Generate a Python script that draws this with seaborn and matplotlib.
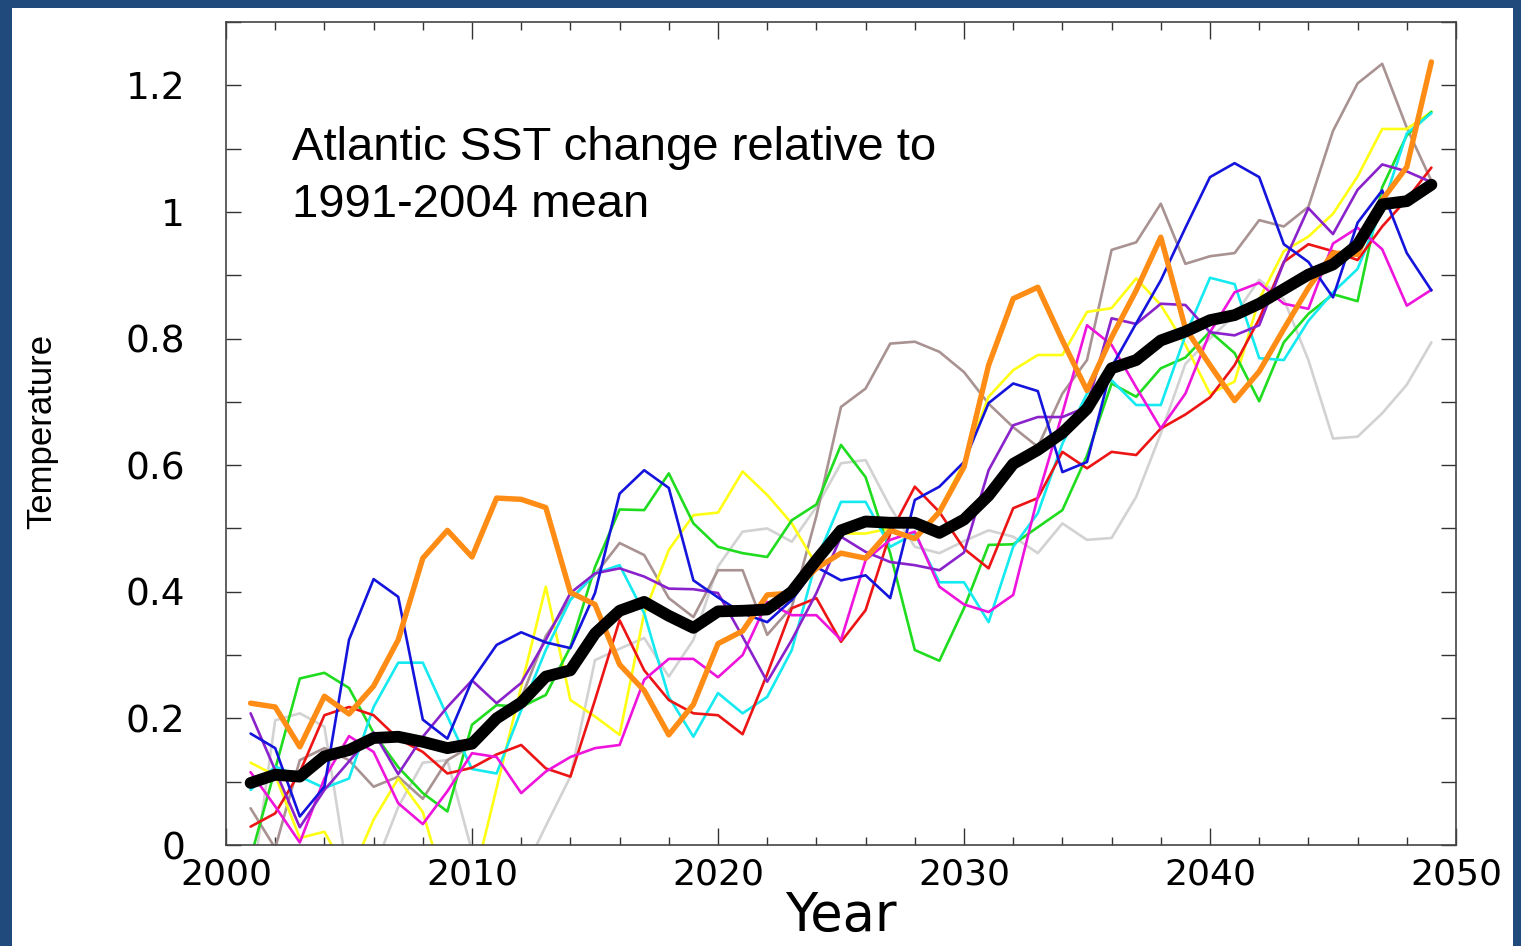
import matplotlib
matplotlib.use("Agg")
import matplotlib.pyplot as plt
from matplotlib.patches import Rectangle
from matplotlib.ticker import MultipleLocator
from matplotlib import font_manager
import pandas as pd
import seaborn as sns

# ---------------------------------------------------------------------------
# Atlantic SST anomaly (deg C) relative to the 1991-2004 mean, per ensemble run
# ---------------------------------------------------------------------------
years = list(range(2001, 2050))

ensemble_mean = [0.098, 0.111, 0.108, 0.140, 0.150,
                 0.169, 0.171, 0.163, 0.153, 0.160,
                 0.200, 0.225, 0.266, 0.276, 0.334,
                 0.370, 0.384, 0.362, 0.343, 0.369,
                 0.370, 0.372, 0.400, 0.450, 0.497,
                 0.511, 0.509, 0.509, 0.493, 0.514,
                 0.552, 0.602, 0.624, 0.651, 0.689,
                 0.753, 0.766, 0.797, 0.811, 0.829,
                 0.837, 0.855, 0.878, 0.901, 0.917,
                 0.948, 1.012, 1.017, 1.043]

run_orange = [0.224, 0.218, 0.155, 0.235, 0.207,
              0.251, 0.324, 0.453, 0.497, 0.455,
              0.548, 0.546, 0.533, 0.399, 0.380,
              0.285, 0.244, 0.174, 0.222, 0.318,
              0.338, 0.395, 0.398, 0.437, 0.461,
              0.453, 0.497, 0.484, 0.526, 0.597,
              0.758, 0.863, 0.881, 0.797, 0.718,
              0.802, 0.876, 0.960, 0.816, 0.758,
              0.702, 0.748, 0.815, 0.880, 0.935,
              0.933, 1.019, 1.071, 1.237]

run_blue = [0.176, 0.153, 0.045, 0.092, 0.324,
            0.420, 0.392, 0.198, 0.168, 0.260,
            0.316, 0.336, 0.320, 0.311, 0.398,
            0.555, 0.592, 0.564, 0.418, 0.391,
            0.366, 0.352, 0.387, 0.439, 0.418,
            0.426, 0.390, 0.545, 0.566, 0.605,
            0.698, 0.729, 0.717, 0.589, 0.605,
            0.755, 0.824, 0.892, 0.975, 1.055,
            1.077, 1.055, 0.949, 0.921, 0.865,
            0.983, 1.034, 0.935, 0.876]

run_green = [-0.020, 0.120, 0.263, 0.272, 0.248,
             0.177, 0.123, 0.082, 0.053, 0.190,
             0.221, 0.218, 0.237, 0.313, 0.439,
             0.530, 0.529, 0.587, 0.508, 0.471,
             0.461, 0.455, 0.513, 0.538, 0.632,
             0.581, 0.461, 0.308, 0.291, 0.374,
             0.474, 0.475, 0.502, 0.529, 0.615,
             0.729, 0.708, 0.753, 0.770, 0.811,
             0.777, 0.701, 0.794, 0.839, 0.870,
             0.859, 1.039, 1.121, 1.158]

run_yellow = [0.130, 0.110, 0.011, 0.021, -0.050,
              0.040, 0.105, 0.052, -0.080, -0.070,
              0.090, 0.250, 0.408, 0.229, 0.203,
              0.174, 0.366, 0.466, 0.521, 0.525,
              0.590, 0.553, 0.508, 0.442, 0.492,
              0.492, 0.500, 0.482, 0.529, 0.605,
              0.708, 0.750, 0.774, 0.774, 0.842,
              0.848, 0.895, 0.853, 0.790, 0.713,
              0.732, 0.862, 0.938, 0.961, 0.997,
              1.056, 1.131, 1.131, 1.158]

run_cyan = [0.087, 0.124, 0.108, 0.090, 0.105,
            0.218, 0.288, 0.288, 0.203, 0.120,
            0.113, 0.213, 0.308, 0.387, 0.429,
            0.442, 0.366, 0.234, 0.171, 0.240,
            0.208, 0.234, 0.308, 0.450, 0.542,
            0.542, 0.471, 0.492, 0.415, 0.415,
            0.352, 0.471, 0.524, 0.634, 0.713,
            0.734, 0.695, 0.695, 0.805, 0.896,
            0.886, 0.769, 0.766, 0.828, 0.873,
            0.910, 1.006, 1.124, 1.156]

run_red = [0.029, 0.050, 0.115, 0.205, 0.218,
           0.205, 0.168, 0.147, 0.113, 0.122,
           0.143, 0.158, 0.121, 0.108, 0.229,
           0.355, 0.276, 0.229, 0.208, 0.205,
           0.175, 0.270, 0.374, 0.390, 0.321,
           0.371, 0.492, 0.566, 0.526, 0.468,
           0.437, 0.532, 0.548, 0.621, 0.595,
           0.621, 0.616, 0.658, 0.680, 0.707,
           0.758, 0.831, 0.921, 0.949, 0.938,
           0.924, 0.977, 1.020, 1.070]

run_magenta = [0.115, 0.061, 0.004, 0.105, 0.172,
               0.147, 0.066, 0.033, 0.085, 0.145,
               0.139, 0.082, 0.116, 0.139, 0.153,
               0.158, 0.261, 0.294, 0.294, 0.265,
               0.300, 0.384, 0.363, 0.363, 0.324,
               0.450, 0.482, 0.495, 0.408, 0.380,
               0.368, 0.395, 0.550, 0.682, 0.821,
               0.790, 0.723, 0.658, 0.713, 0.810,
               0.873, 0.888, 0.855, 0.847, 0.950,
               0.975, 0.941, 0.852, 0.877]

run_purple = [0.208, 0.118, 0.028, 0.087, 0.132,
              0.178, 0.112, 0.171, 0.218, 0.260,
              0.224, 0.256, 0.324, 0.398, 0.429,
              0.437, 0.424, 0.405, 0.404, 0.398,
              0.329, 0.258, 0.324, 0.398, 0.487,
              0.463, 0.447, 0.442, 0.434, 0.462,
              0.592, 0.663, 0.676, 0.676, 0.692,
              0.832, 0.823, 0.855, 0.853, 0.810,
              0.805, 0.821, 0.920, 1.006, 0.965,
              1.035, 1.075, 1.064, 1.047]

run_brown = [0.058, -0.005, 0.134, 0.153, 0.134,
             0.092, 0.108, 0.073, 0.134, 0.157,
             0.200, 0.232, 0.330, 0.388, 0.427,
             0.477, 0.458, 0.390, 0.360, 0.434,
             0.434, 0.332, 0.376, 0.520, 0.692,
             0.721, 0.792, 0.795, 0.779, 0.747,
             0.697, 0.660, 0.629, 0.713, 0.766,
             0.940, 0.952, 1.013, 0.918, 0.930,
             0.935, 0.987, 0.977, 1.008, 1.128,
             1.203, 1.234, 1.133, 1.049]

run_gray = [-0.080, 0.197, 0.208, 0.187, -0.060,
            -0.040, 0.060, 0.130, 0.134, -0.010,
            -0.080, -0.050, 0.030, 0.108, 0.292,
            0.310, 0.327, 0.266, 0.324, 0.440,
            0.495, 0.500, 0.479, 0.534, 0.603,
            0.608, 0.534, 0.471, 0.461, 0.480,
            0.497, 0.487, 0.461, 0.508, 0.482,
            0.485, 0.550, 0.650, 0.760, 0.800,
            0.837, 0.893, 0.862, 0.766, 0.642,
            0.645, 0.682, 0.727, 0.794]

ytick_values = [0, 0.2, 0.4, 0.6, 0.8, 1.0, 1.2]
ytick_labels = ["0", "0.2", "0.4", "0.6", "0.8", "1", "1.2"]

# ---------------------------------------------------------------------------
thin_runs = {
    "gray": run_gray,
    "brown": run_brown,
    "yellow": run_yellow,
    "green": run_green,
    "cyan": run_cyan,
    "red": run_red,
    "magenta": run_magenta,
    "purple": run_purple,
    "blue": run_blue,
}
thin_colors = {
    "gray": "#d2d2d2",
    "brown": "#a89292",
    "yellow": "#ffff14",
    "green": "#1fdc1f",
    "cyan": "#14eaf0",
    "red": "#ec1414",
    "magenta": "#ee14dc",
    "purple": "#8a22cc",
    "blue": "#1414dc",
}

runs_df = pd.concat(
    [pd.DataFrame({"year": years, "anomaly": vals, "run": name})
     for name, vals in thin_runs.items()],
    ignore_index=True,
)

sns.set_style("ticks")
plt.rcParams["font.family"] = ["DejaVu Sans"]
plt.rcParams["text.color"] = "black"
plt.rcParams["axes.labelcolor"] = "black"
plt.rcParams["xtick.labelcolor"] = "black"
plt.rcParams["ytick.labelcolor"] = "black"

W, H = 1521, 946
fig = plt.figure(figsize=(W / 100, H / 100), dpi=100)
fig.patch.set_facecolor("white")
ax = fig.add_axes([226 / W, 101 / H, 1230 / W, 823 / H])
ax.set_facecolor("white")

sns.lineplot(data=runs_df, x="year", y="anomaly", hue="run",
             hue_order=list(thin_runs.keys()), palette=thin_colors,
             estimator=None, linewidth=1.9, legend=False, ax=ax)
sns.lineplot(x=years, y=run_orange, color="#ff8c14", linewidth=3.9,
             estimator=None, ax=ax)
sns.lineplot(x=years, y=ensemble_mean, color="black", linewidth=8.5,
             estimator=None, ax=ax)

ax.set_xlim(2000, 2050)
ax.set_ylim(0, 1.3)
ax.xaxis.set_major_locator(MultipleLocator(10))
ax.xaxis.set_minor_locator(MultipleLocator(2))
ax.set_yticks(ytick_values)
ax.set_yticklabels(ytick_labels)
ax.yaxis.set_minor_locator(MultipleLocator(0.1))

ax.tick_params(axis="both", which="both", direction="in", top=True,
               right=True, color="#333333", width=1.0,
               labelcolor="black")
ax.tick_params(axis="x", which="major", length=12, pad=9, labelsize=26)
ax.tick_params(axis="x", which="minor", length=6)
ax.tick_params(axis="y", which="both", length=11)
ax.tick_params(axis="y", which="major", pad=29.5, labelsize=27)
for side in ax.spines.values():
    side.set_color("#444444")
    side.set_linewidth(1.2)

# axis titles
ax.set_xlabel("Year", fontsize=38, color="black")
ax.xaxis.set_label_coords(0.5, -0.055)

available = {f.name for f in font_manager.fontManager.ttflist}
if "Liberation Sans Narrow" in available:
    ylab_font, ylab_size = "Liberation Sans Narrow", 28
else:
    ylab_font, ylab_size = "Liberation Sans", 25
ax.set_ylabel("Temperature", fontsize=ylab_size, family=ylab_font,
              color="black")
ax.yaxis.set_label_coords(-0.136, 0.502)

# annotation inside the plot
ax.text(0.0537, 0.8323, "Atlantic SST change relative to",
        transform=ax.transAxes, ha="left", va="baseline",
        fontsize=34, family="Liberation Sans", color="black")
ax.text(0.0537, 0.7631, "1991-2004 mean",
        transform=ax.transAxes, ha="left", va="baseline",
        fontsize=34, family="Liberation Sans", color="black")

# dark blue slide frame
frame_color = "#214a7c"
for x0, y0, w, h in [(0, 0, 12 / W, 1),
                     (0, 1 - 8 / H, 1, 8 / H),
                     (1 - 8 / W, 0, 8 / W, 1)]:
    fig.add_artist(Rectangle((x0, y0), w, h, transform=fig.transFigure,
                             facecolor=frame_color, edgecolor="none",
                             zorder=20))

fig.savefig("out.png", dpi=100, facecolor=fig.get_facecolor())
